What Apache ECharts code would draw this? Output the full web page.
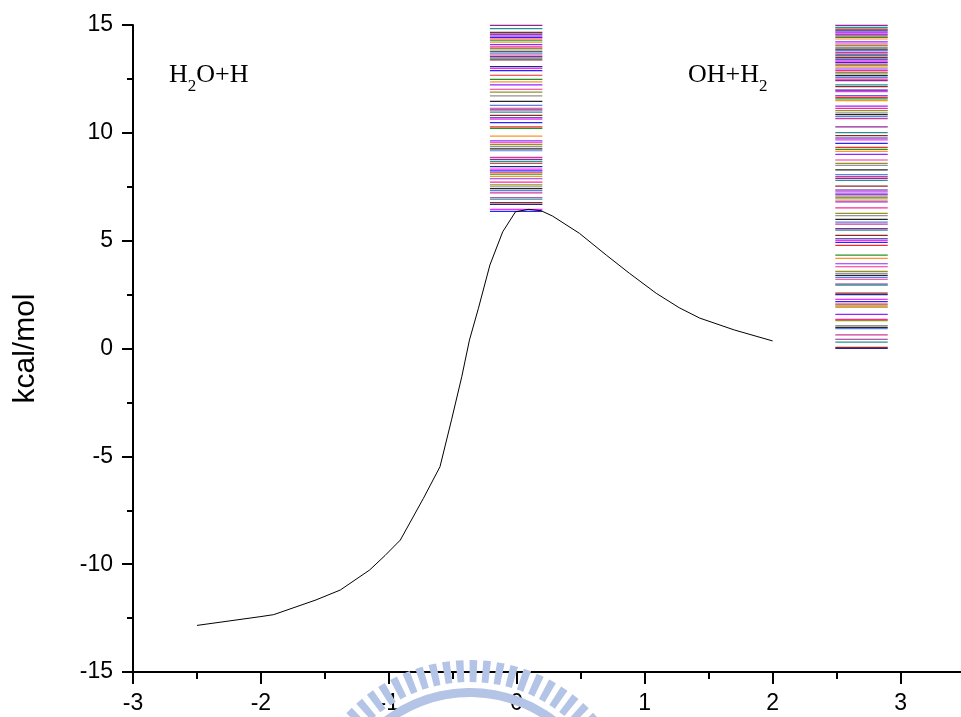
<!DOCTYPE html>
<html><head><meta charset="utf-8">
<script src="https://cdn.jsdelivr.net/npm/echarts@6/dist/echarts.min.js"></script>
<style>html,body{margin:0;padding:0;background:#fff}#c{width:961px;height:717px}</style>
</head><body><div id="c"></div>
<script>
// Reaction-path energy curve (kcal/mol)
const curveX = [-2.5, -2.0, -1.9, -1.57, -1.38, -1.15, -1.03, -0.91, -0.73, -0.60, -0.51, -0.43, -0.37, -0.30, -0.21, -0.11, -0.01, 0.09, 0.19, 0.28, 0.49, 0.70, 0.88, 1.09, 1.27, 1.43, 1.70, 2.0];
const curveY = [-12.84, -12.43, -12.34, -11.66, -11.2, -10.27, -9.6, -8.88, -6.95, -5.48, -3.31, -1.31, 0.39, 1.86, 3.87, 5.41, 6.34, 6.45, 6.39, 6.14, 5.34, 4.33, 3.49, 2.56, 1.89, 1.41, 0.86, 0.35];

// Energy levels at the transition state
const tsRange = [-0.21, 0.2];
const tsLevels = [14.98, 14.83, 14.66, 14.58, 14.50, 14.43, 14.35, 14.27, 14.20, 14.09, 13.99, 13.92, 13.84, 13.76, 13.69, 13.61, 13.53, 13.46, 13.38, 13.07, 12.99, 12.88, 12.67, 12.48, 12.36, 12.22, 12.02, 11.89, 11.71, 11.46, 11.27, 11.14, 11.06, 10.96, 10.81, 10.70, 10.64, 10.47, 10.28, 10.21, 9.85, 9.63, 9.54, 9.45, 9.36, 9.26, 9.17, 8.86, 8.77, 8.68, 8.59, 8.43, 8.32, 8.24, 8.15, 8.08, 7.98, 7.87, 7.71, 7.59, 7.50, 7.41, 7.32, 7.22, 6.99, 6.92, 6.76, 6.68, 6.45, 6.36];

// Energy levels of the products OH+H2
const prodRange = [2.49, 2.9];
const prodLevels = [14.98, 14.89, 14.81, 14.73, 14.66, 14.58, 14.50, 14.43, 14.35, 14.22, 14.12, 14.04, 13.96, 13.88, 13.81, 13.73, 13.65, 13.58, 13.50, 13.42, 13.34, 13.27, 13.19, 13.11, 13.04, 12.96, 12.88, 12.80, 12.73, 12.65, 12.57, 12.49, 12.42, 12.22, 12.14, 11.98, 11.91, 11.72, 11.64, 11.57, 11.49, 11.24, 11.13, 11.03, 10.93, 10.84, 10.75, 10.66, 10.28, 10.01, 9.87, 9.76, 9.67, 9.51, 9.33, 9.23, 9.14, 9.00, 8.74, 8.58, 8.49, 8.28, 8.06, 7.97, 7.89, 7.80, 7.53, 7.35, 7.26, 7.16, 7.07, 6.98, 6.88, 6.80, 6.52, 6.27, 6.16, 5.99, 5.86, 5.77, 5.56, 5.49, 5.25, 5.09, 5.01, 4.92, 4.78, 4.33, 4.18, 3.93, 3.79, 3.58, 3.48, 3.39, 3.30, 3.21, 2.99, 2.94, 2.57, 2.50, 2.28, 2.17, 2.06, 1.97, 1.91, 1.58, 1.35, 1.29, 1.06, 0.98, 0.92, 0.63, 0.43, 0.30, 0.05, 0.0];

const xMin = -3, xMax = 3.5, xStep = 1;
const yMin = -15, yMax = 15, yStep = 5;

const palette = ['#800080','#008080','#800000','#000080','#ff00ff','#0000ff','#ff0000','#008000','#ff8000','#8000ff','#ff0080','#808000','#808080','#000000','#4169e1','#c71585'];

const FONT = 'Liberation Sans, Arial, sans-serif';
const chart = echarts.init(document.getElementById('c'));

function levelData(range, levels) {
  return levels.map(v => [range[0], range[1], v]);
}
function renderLevel(params, api) {
  const p1 = api.coord([api.value(0), api.value(2)]);
  const p2 = api.coord([api.value(1), api.value(2)]);
  return {
    type: 'line',
    shape: {x1: p1[0], y1: p1[1], x2: p2[0], y2: p2[1]},
    style: {stroke: palette[params.dataIndex % palette.length], lineWidth: 1.2, opacity: 0.85}
  };
}

// watermark (decorative ring of stripes)
const wm = [];
const wcx = 470, wcy = 830;
for (let a = -50; a <= 50; a += 4.65) {
  const c = -Math.PI / 2 + a * Math.PI / 180;
  const hw = 1.3 * Math.PI / 180;
  wm.push({type: 'sector', shape: {cx: wcx, cy: wcy, r0: 148, r: 170, startAngle: c - hw, endAngle: c + hw}, style: {fill: '#b3c4e6'}, z: 100});
}
wm.push({type: 'sector', shape: {cx: wcx, cy: wcy, r0: 133, r: 142, startAngle: -Math.PI / 2 - 1.0, endAngle: -Math.PI / 2 + 1.0}, style: {fill: '#b3c4e6'}, z: 100});

const serif = 'Liberation Serif, Times New Roman, serif';
const rich = {
  n: {fontFamily: serif, fontSize: 26, color: '#000', verticalAlign: 'top', lineHeight: 30},
  s: {fontFamily: serif, fontSize: 17, color: '#000', verticalAlign: 'bottom', lineHeight: 33}
};

chart.setOption({
  animation: false,
  backgroundColor: '#fff',
  grid: {left: 133, top: 25, width: 831.5, height: 647, containLabel: false, outerBoundsMode: 'none'},
  xAxis: [{
    type: 'value', min: xMin, max: xMax, interval: xStep, position: 'bottom',
    axisLine: {show: true, onZero: false, lineStyle: {color: '#000', width: 2}},
    axisTick: {show: true, length: 12, lineStyle: {color: '#000', width: 2}},
    axisLabel: {fontFamily: FONT, fontSize: 23, color: '#000', margin: 20,
      formatter: v => (v === xMax ? '' : String(v))},
    splitLine: {show: false}
  }, {
    type: 'value', min: xMin, max: xMax, interval: 0.5, position: 'bottom',
    axisLine: {show: false, onZero: false},
    axisTick: {show: true, length: 7, lineStyle: {color: '#000', width: 2}},
    axisLabel: {show: false},
    splitLine: {show: false}
  }],
  yAxis: {
    type: 'value', min: yMin, max: yMax, interval: yStep,
    name: 'kcal/mol', nameLocation: 'middle', nameGap: 92,
    nameTextStyle: {fontFamily: FONT, fontSize: 30, color: '#000'},
    axisLine: {show: true, onZero: false, lineStyle: {color: '#000', width: 2}},
    axisTick: {show: true, length: 11, lineStyle: {color: '#000', width: 2}},
    minorTick: {show: true, splitNumber: 2, length: 6, lineStyle: {color: '#000', width: 2}},
    axisLabel: {fontFamily: FONT, fontSize: 23, color: '#000', margin: 20},
    splitLine: {show: false}
  },
  series: [{
    type: 'custom', xAxisIndex: 0, renderItem: renderLevel,
    encode: {x: [0, 1], y: 2}, data: levelData(tsRange, tsLevels), z: 2
  }, {
    type: 'custom', xAxisIndex: 0, renderItem: renderLevel,
    encode: {x: [0, 1], y: 2}, data: levelData(prodRange, prodLevels), z: 2
  }, {
    type: 'line', xAxisIndex: 0, showSymbol: false, symbol: 'none',
    data: curveX.map((x, i) => [x, curveY[i]]),
    lineStyle: {color: '#000', width: 1}, z: 3
  }],
  graphic: [
    {type: 'text', left: 169, top: 62, z: 50, style: {text: '{n|H}{s|2}{n|O+H}', rich: rich}},
    {type: 'text', left: 688, top: 62, z: 50, style: {text: '{n|OH+H}{s|2}', rich: rich}}
  ].concat(wm)
});
</script>
</body></html>
